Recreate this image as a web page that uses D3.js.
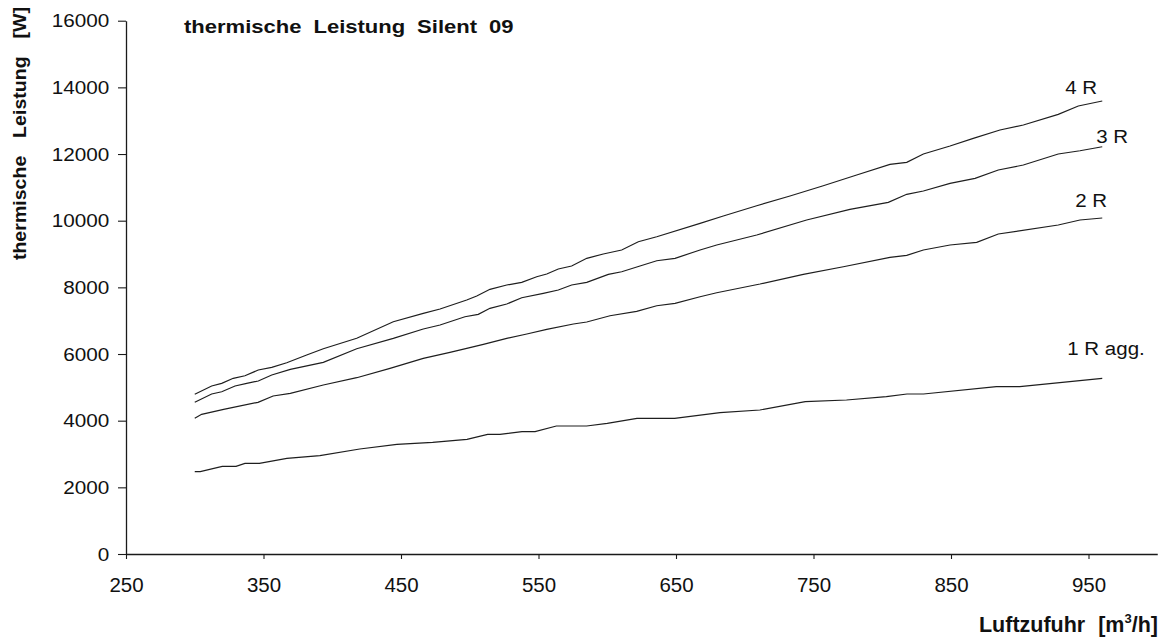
<!DOCTYPE html>
<html>
<head>
<meta charset="utf-8">
<script src="https://cdn.jsdelivr.net/npm/d3@7"></script>
<style>
  html, body { margin: 0; padding: 0; background: #fff; }
  svg { display: block; font-family: "Liberation Sans", Arial, sans-serif; }
</style>
</head>
<body>
<svg id="chart" width="1167" height="638"></svg>
<script>
// Luftzufuhr [m³/h] sample points and thermal output [W] per coil variant
const x1R = [300, 304, 320, 330, 336.5, 347, 367, 391, 420, 447, 473, 498, 513, 522, 538, 547.5, 563, 585, 600, 621.6, 649, 682, 711, 744, 774, 803, 818, 830, 883, 900, 960];
const y1R = [2470, 2470, 2630, 2630, 2720, 2720, 2870, 2950, 3150, 3290, 3350, 3440, 3590, 3590, 3670, 3670, 3840, 3840, 3920, 4070, 4070, 4240, 4320, 4569, 4620, 4719, 4800, 4800, 5019, 5019, 5271];

const x2R = [300, 305, 321, 346, 357, 369.5, 393.5, 417.8, 442, 466.2, 485.6, 497.8, 509.9, 526.9, 541.5, 556, 575.4, 585.1, 602, 621.4, 636, 649.3, 667.5, 679.6, 711.1, 742.6, 771.7, 805.6, 817.8, 829.9, 849.3, 868.7, 884.4, 928, 943.8, 960];
const y2R = [4071, 4191, 4341, 4551, 4740, 4821, 5070, 5289, 5571, 5871, 6051, 6171, 6291, 6471, 6600, 6741, 6900, 6960, 7149, 7281, 7449, 7521, 7719, 7839, 8100, 8391, 8619, 8901, 8961, 9120, 9270, 9351, 9600, 9870, 10020, 10080];

const x3R = [300, 312.3, 319.6, 329.3, 337.8, 346.2, 356, 369.5, 393.5, 417.8, 444.4, 466.2, 478.4, 496.5, 506.2, 514.7, 526.9, 537.8, 553.5, 564.4, 574.1, 585.1, 600.8, 610.5, 623.8, 636, 649.3, 667.5, 679.6, 708.7, 745, 776.5, 804.4, 817.8, 829.9, 849.3, 867.5, 884.4, 902.6, 928, 943.8, 960];
const y3R = [4551, 4800, 4869, 5040, 5121, 5190, 5370, 5541, 5751, 6159, 6471, 6750, 6870, 7119, 7191, 7371, 7500, 7689, 7821, 7920, 8070, 8151, 8391, 8469, 8640, 8799, 8871, 9120, 9270, 9570, 10020, 10341, 10551, 10791, 10890, 11121, 11271, 11520, 11670, 12000, 12099, 12219];

const x4R = [300, 312.3, 319.6, 328, 336.5, 346.2, 356, 366.9, 381.4, 393.5, 417.8, 444.4, 466.2, 478.4, 497.8, 505.1, 514.7, 526.9, 537.8, 548.7, 556, 564.4, 574.1, 585.1, 597.1, 610.5, 622.6, 636, 667.5, 684.4, 708.7, 732.9, 757.1, 781.4, 805.6, 817.8, 829.9, 849.3, 866.2, 885.6, 902.6, 928, 942.6, 960];
const y4R = [4791, 5040, 5121, 5271, 5349, 5520, 5601, 5739, 5970, 6159, 6471, 6969, 7221, 7350, 7620, 7740, 7941, 8070, 8151, 8319, 8400, 8550, 8640, 8871, 9000, 9120, 9369, 9519, 9921, 10140, 10449, 10740, 11049, 11370, 11691, 11751, 12000, 12240, 12471, 12720, 12870, 13191, 13440, 13590];

const seriesNames = ["1 R agg.", "2 R", "3 R", "4 R"];
const xTicks = [250, 350, 450, 550, 650, 750, 850, 950];
const yTicks = [0, 2000, 4000, 6000, 8000, 10000, 12000, 14000, 16000];

const series = [
  { name: seriesNames[0], xs: x1R, ys: y1R, dx: -35, dy: -23 },
  { name: seriesNames[1], xs: x2R, ys: y2R, dx: -27, dy: -11 },
  { name: seriesNames[2], xs: x3R, ys: y3R, dx: -6,  dy: -4 },
  { name: seriesNames[3], xs: x4R, ys: y4R, dx: -37, dy: -7 }
];

const svg = d3.select("#chart");
const plotLeft = 126, plotRight = 1157.25, plotTop = 20.7, plotBottom = 554;
const FONT = "'Liberation Sans', Arial, sans-serif";
const WIDE = 1.12;   // the lettering runs slightly wide

const x = d3.scaleLinear().domain([250, 1000]).range([plotLeft, plotRight]);
const y = d3.scaleLinear().domain([0, 16000]).range([plotBottom, plotTop]);

// axes
const xAxis = svg.append("g")
  .attr("transform", `translate(0,${plotBottom})`)
  .call(d3.axisBottom(x).tickValues(xTicks).tickFormat(d3.format("d")).tickSizeInner(5).tickSizeOuter(0));
const yAxis = svg.append("g")
  .attr("transform", `translate(${plotLeft},0)`)
  .call(d3.axisLeft(y).tickValues(yTicks).tickFormat(d3.format("d")).tickSizeInner(8).tickSizeOuter(0));

[xAxis, yAxis].forEach(g => {
  g.select(".domain").attr("stroke", "#1a1a1a").attr("stroke-width", 1.3);
  g.selectAll(".tick line").attr("stroke", "#1a1a1a").attr("stroke-width", 1.1);
  g.selectAll(".tick text").attr("fill", "#111").style("font-family", FONT);
});
xAxis.selectAll(".tick text")
  .attr("y", 37.5).attr("dy", 0)
  .style("font-size", "20.5px");
yAxis.selectAll(".tick text")
  .attr("x", 0).attr("y", 0).attr("dy", 0)
  .attr("transform", `translate(-16.7,6) scale(${WIDE},1)`)
  .style("font-size", "18.5px");

// curves
const line = d3.line().x(d => x(d[0])).y(d => y(d[1]));
series.forEach(s => {
  const pts = s.xs.map((v, i) => [v, s.ys[i]]);
  svg.append("path")
    .datum(pts)
    .attr("d", line)
    .attr("fill", "none")
    .attr("stroke", "#1e1e1e")
    .attr("stroke-width", 1.2);
  const last = pts[pts.length - 1];
  svg.append("text")
    .attr("transform", `translate(${x(last[0]) + s.dx},${y(last[1]) + s.dy}) scale(1.08,1)`)
    .attr("fill", "#111")
    .style("font-size", "19px")
    .text(s.name);
});

// chart title
svg.append("text")
  .attr("transform", "translate(184,33.3) scale(1.16,1)")
  .attr("fill", "#111")
  .style("font-size", "19px").style("font-weight", "bold")
  .style("word-spacing", "5px")
  .text("thermische Leistung Silent 09");

// value axis title
svg.append("text")
  .attr("transform", "translate(25.5,7) rotate(-90) scale(1.12,1)")
  .attr("text-anchor", "end")
  .attr("fill", "#111")
  .style("font-size", "17.5px").style("font-weight", "bold")
  .style("word-spacing", "11px")
  .text("thermische Leistung [W]");

// category axis title
const xt = svg.append("text")
  .attr("x", 1158).attr("y", 631.5)
  .attr("text-anchor", "end")
  .attr("fill", "#111")
  .style("font-size", "21.5px").style("font-weight", "bold")
  .style("word-spacing", "7px");
xt.append("tspan").text("Luftzufuhr [m");
xt.append("tspan").attr("dy", -9).style("font-size", "13px").text("3");
xt.append("tspan").attr("dy", 9).text("/h]");
</script>
</body>
</html>
